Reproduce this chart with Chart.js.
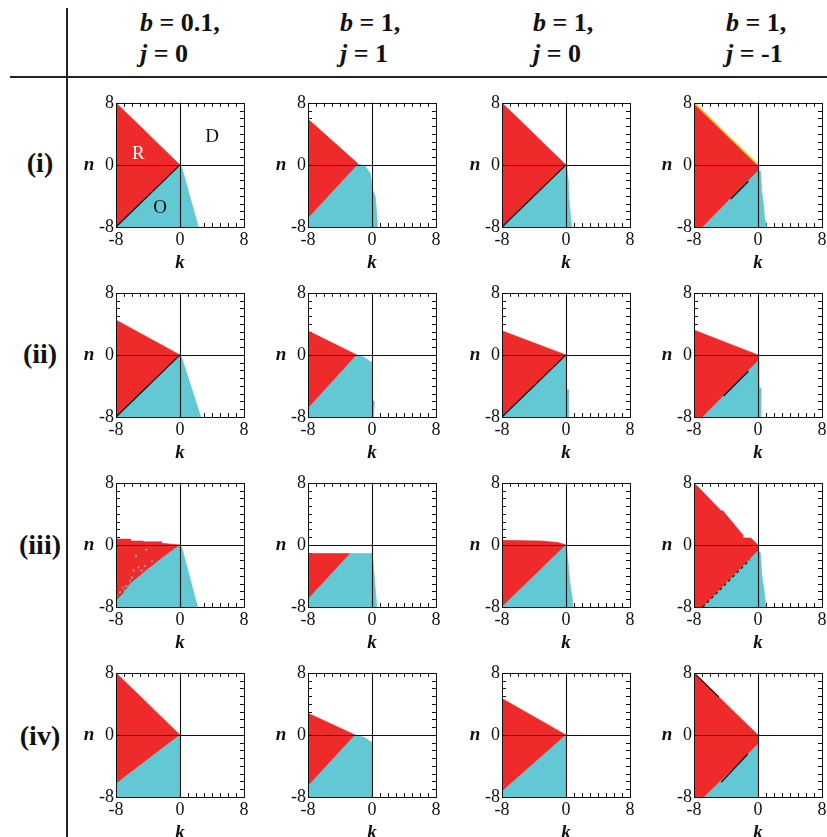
<!DOCTYPE html>
<html lang="en">
<head>
<meta charset="UTF-8">
<title>R / O / D regions in the (k, n) plane</title>
<script src="https://cdn.jsdelivr.net/npm/chart.js"></script>
<style>
  html, body { margin: 0; padding: 0; background: #fff; }
  body {
    width: 827px; height: 837px; position: relative; overflow: hidden;
    font-family: 'Liberation Serif', 'Times New Roman', serif; color: #111;
  }
  .vline { position: absolute; left: 66px; top: 8px; width: 2px; height: 829px; background: #222; }
  .hline { position: absolute; left: 10px; top: 76px; width: 817px; height: 2px; background: #222; }
  .head { position: absolute; top: 7px; font-weight: bold; font-size: 26px; line-height: 31px; white-space: nowrap; }
  .rowlab { position: absolute; left: 0; width: 80px; text-align: center; font-weight: bold; font-size: 28px; line-height: 30px; }
  canvas { position: absolute; }
</style>
</head>
<body>
<div class="vline"></div>
<div class="hline"></div>
<script>
const tickValues = [-8, 0, 8];
const bValues = ['0.1', '1', '1', '1'];
const jValues = ['0', '1', '0', '-1'];
const rowLabels = ['(i)', '(ii)', '(iii)', '(iv)'];

// R region (red) and O region (cyan), one polygon per column, [k, n]
const redI = [
  [[-8, 8], [0, 0], [-8, -8]],
  [[-8, 5.9], [-1.7, 0.1], [-8, -6.9]],
  [[-8, 8], [0, 0], [-8, -8]],
  [[-8, 8], [0, 0], [0, -0.8], [-6.9, -8], [-8, -8]]
];
const cyanI = [
  [[-8, -8], [0, 0], [0.3, -0.6], [2.3, -8]],
  [[-8, -8], [-8, -6.9], [-1.7, 0.1], [-0.9, -0.1], [-0.2, -1.1], [0.1, -3.3], [0.4, -4], [0.6, -6.3], [0.7, -8]],
  [[-8, -8], [0, 0], [0.1, -0.3], [0.3, -2.2], [0.4, -4.7], [0.6, -6.8], [0.7, -8]],
  [[-6.9, -8], [0, -0.8], [0.33, -0.8], [0.46, -3.3], [0.67, -5], [0.83, -6.8], [1.1, -8]]
];
const redII = [
  [[-8, 4.5], [0, 0], [-8, -8]],
  [[-8, 3.1], [-1.9, 0], [-8, -6.9]],
  [[-8, 3.1], [0, 0], [-8, -8]],
  [[-8, 3.2], [0, 0], [0, -0.8], [-6.9, -8], [-8, -8]]
];
const cyanII = [
  [[-8, -8], [0, 0], [0.3, -0.6], [2.6, -8]],
  [[-8, -8], [-8, -6.9], [-1.9, 0], [-1, -0.3], [0, -1], [0, -5.8], [0.3, -6], [0.2, -8]],
  [[-8, -8], [0, 0], [0, -4.5], [0.3, -4.5], [0.3, -8]],
  [[-6.9, -8], [0, -0.8], [0.1, -4.2], [0.35, -4.3], [0.35, -8]]
];
const redIII = [
  [[-8, 0.75], [-6.2, 0.75], [-6.2, 0.5], [-4.6, 0.5], [-4.6, 0.4], [-2.3, 0.4], [-2.3, 0.2], [0, 0],
   [-2.1, -1.6], [-4.2, -3.3], [-6.2, -5], [-7.1, -6.3], [-8, -7.2]],
  [[-8, -1.1], [-2.7, -1.1], [-8, -7]],
  [[-8, 0.6], [-3, 0.5], [-1, 0.3], [0, 0], [-8, -8]],
  [[-8, 8], [-4.6, 4.4], [-4.4, 4.4], [-1.9, 1.3], [-1.9, 0.9], [-0.9, 0.9], [0, 0], [0, -0.8], [-6.9, -8], [-8, -8]]
];
const cyanIII = [
  [[-8, -8], [-8, -7.2], [-7.1, -6.3], [-6.2, -5], [-4.2, -3.3], [-2.1, -1.6], [0, 0], [0.3, -0.6], [2.2, -8]],
  [[-8, -8], [-8, -7], [-2.7, -1.1], [0, -1.1], [0.2, -3], [0.4, -5.5], [0.6, -8]],
  [[-8, -8], [0, 0], [0.2, -1.5], [0.5, -5], [0.8, -7], [0.9, -8]],
  [[-6.9, -8], [0, -0.8], [0.3, -1], [0.5, -4], [0.8, -6.2], [1, -8]]
];
const redIV = [
  [[-8, 8], [0, 0], [-8, -6.3]],
  [[-8, 2.8], [-2.1, 0], [-8, -6.6]],
  [[-8, 4.7], [0, 0], [-8, -7.3]],
  [[-8, 8], [0, 0], [0, -1.2], [-6.7, -8], [-8, -8]]
];
const cyanIV = [
  [[-8, -8], [-8, -6.3], [0, 0], [0, -8]],
  [[-8, -8], [-8, -6.6], [-2.1, 0], [-1, -0.3], [0, -1], [0, -8]],
  [[-8, -8], [-8, -7.3], [0, 0], [0, -8]],
  [[-6.7, -8], [0, -1.2], [0, -8]]
];

// black boundary segments drawn on the R/O border
const edgeI = [[[[-8, -8], [0, 0]]], [], [[[-8, -8], [0, 0]]], [[[-3.4, -4.4], [-1.2, -2.1]]]];
const edgeII = [[[[-8, -8], [0, 0]]], [], [[[-8, -8], [0, 0]]], [[[-4.3, -5.3], [-1.2, -2.1]]]];
const edgeIII = [[], [], [], []];
const edgeIV = [[], [], [], [[[-7.8, 7.8], [-4.9, 4.9]], [[-4.6, -6.1], [-1.3, -2.5]]]];
const dashIII4 = [[-6.9, -8], [-1, -1.9]];
const yellowI4 = [[-8, 8], [0, 0]];
// scattered O points inside R, panel (iii) column 1
const dotsIII1 = [[-4.2, -0.6], [-5.5, -1.4], [-2.5, -2.1], [-2.9, -2.6], [-5.2, -2.9], [-3.75, -3.1],
  [-4.8, -3.3], [-5.8, -3.3], [-6, -4.2], [-6.25, -4.6], [-5, -4.4], [-6.7, -5.3], [-7.1, -5.5],
  [-7.5, -6.1], [-6.9, -5.9], [-3.5, -2.1], [-4.4, -2.7], [-7.9, -6.5]];
const tagsI1 = [['R', -5.2, 1.4, '#fff'], ['D', 4, 3.6, '#111'], ['O', -2.5, -5.6, '#111']];

const redRows = [redI, redII, redIII, redIV];
const cyanRows = [cyanI, cyanII, cyanIII, cyanIV];
const edgeRows = [edgeI, edgeII, edgeIII, edgeIV];

const plotLeft = [116, 308, 502, 694];
const plotTop = [102, 292, 482, 672];
const headLeft = [140, 340, 533, 726];
const rowMid = [163, 354, 545, 736];
const RED = '#ee2a2a', CYAN = '#62c8d4', INK = '#111';
const SERIF = "'Liberation Serif', 'Times New Roman', serif";

Chart.defaults.font.family = SERIF;
Chart.defaults.color = INK;

bValues.forEach((b, c) => {
  const d = document.createElement('div');
  d.className = 'head';
  d.style.left = headLeft[c] + 'px';
  d.innerHTML = '<i>b</i> = ' + b + ',<br><i>j</i> = ' + jValues[c];
  document.body.appendChild(d);
});
rowLabels.forEach((t, r) => {
  const d = document.createElement('div');
  d.className = 'rowlab';
  d.style.top = (rowMid[r] - 15) + 'px';
  d.textContent = t;
  document.body.appendChild(d);
});

const toXY = pts => pts.map(p => ({x: p[0], y: p[1]}));

function polygon(pts, color, order) {
  return {data: toXY(pts), showLine: true, fill: 'shape', backgroundColor: color,
    borderColor: color, borderWidth: 0.6, pointRadius: 0, order: order};
}
function segment(pts, color, width, dash) {
  return {data: toXY(pts), showLine: true, fill: false, borderColor: color,
    borderWidth: width, borderDash: dash || [], pointRadius: 0, order: 1};
}

// frame, inward minor ticks, zero lines, n label and region tags
const framePlugin = {
  id: 'frame',
  beforeDatasetsDraw(chart) {
    const {ctx, chartArea: a, scales: {x, y}} = chart;
    ctx.save();
    ctx.strokeStyle = INK;
    ctx.lineWidth = 1;
    ctx.beginPath();
    for (let v = -7; v <= 7; v++) {
      const px = Math.round(x.getPixelForValue(v)) + 0.5;
      const py = Math.round(y.getPixelForValue(v)) + 0.5;
      ctx.moveTo(px, a.top); ctx.lineTo(px, a.top + 4);
      ctx.moveTo(px, a.bottom); ctx.lineTo(px, a.bottom - 4);
      ctx.moveTo(a.left, py); ctx.lineTo(a.left + 4, py);
      ctx.moveTo(a.right, py); ctx.lineTo(a.right - 4, py);
    }
    ctx.stroke();
    ctx.restore();
  },
  afterDatasetsDraw(chart, args, opts) {
    const {ctx, chartArea: a, scales: {x, y}} = chart;
    const x0 = Math.round(x.getPixelForValue(0)) + 0.5;
    const y0 = Math.round(y.getPixelForValue(0)) + 0.5;
    ctx.save();
    ctx.strokeStyle = INK;
    ctx.lineWidth = 1.1;
    ctx.beginPath();
    ctx.moveTo(x0, a.top); ctx.lineTo(x0, a.bottom);
    ctx.moveTo(a.left, y0); ctx.lineTo(a.right, y0);
    ctx.stroke();
    ctx.lineWidth = 1;
    ctx.strokeRect(Math.round(a.left) + 0.5, Math.round(a.top) + 0.5, Math.round(a.width), Math.round(a.height));
    ctx.fillStyle = INK;
    ctx.font = 'italic bold 19px ' + SERIF;
    ctx.textAlign = 'center';
    ctx.textBaseline = 'middle';
    ctx.fillText('n', a.left - 27, y0);
    ctx.font = '19px ' + SERIF;
    (opts.tags || []).forEach(t => {
      ctx.fillStyle = t[3];
      ctx.fillText(t[0], x.getPixelForValue(t[1]), y.getPixelForValue(t[2]));
    });
    ctx.restore();
  }
};

function axis(extra) {
  return Object.assign({
    type: 'linear', min: -8, max: 8,
    afterBuildTicks: s => { s.ticks = tickValues.map(v => ({value: v})); },
    grid: {display: false, drawTicks: false},
    border: {display: false},
    ticks: {color: INK, font: {size: 18}, padding: 2, maxRotation: 0, autoSkip: false}
  }, extra);
}

for (let r = 0; r < 4; r++) {
  for (let c = 0; c < 4; c++) {
    const cv = document.createElement('canvas');
    cv.width = 190; cv.height = 184;
    cv.style.left = (plotLeft[c] - 50) + 'px';
    cv.style.top = (plotTop[r] - 12) + 'px';
    cv.style.width = '190px'; cv.style.height = '184px';
    document.body.appendChild(cv);

    const datasets = [polygon(redRows[r][c], RED, 4), polygon(cyanRows[r][c], CYAN, 3)];
    edgeRows[r][c].forEach(s => datasets.push(segment(s, INK, 1.3)));
    if (r === 0 && c === 3) datasets.push(segment(yellowI4, '#f3c21b', 1.6));
    if (r === 2 && c === 3) datasets.push(segment(dashIII4, INK, 1.2, [3, 3]));
    if (r === 2 && c === 0) {
      datasets.push({data: toXY(dotsIII1), showLine: false, pointStyle: 'rect', pointRadius: 1.3,
        pointBackgroundColor: CYAN, pointBorderWidth: 0, order: 2});
    }

    new Chart(cv, {
      type: 'scatter',
      data: {datasets: datasets},
      options: {
        responsive: false,
        animation: false,
        layout: {padding: {left: 0, top: 12, right: 12, bottom: 0}},
        plugins: {
          legend: {display: false},
          tooltip: {enabled: false},
          frame: {tags: (r === 0 && c === 0) ? tagsI1 : []}
        },
        scales: {
          x: axis({
            title: {display: true, text: 'k', color: INK,
              font: {size: 19, weight: 'bold', style: 'italic'}, padding: {top: 0, bottom: 0}},
            afterFit: s => { s.height = 47; }
          }),
          y: axis({afterFit: s => { s.width = 50; }})
        }
      },
      plugins: [framePlugin]
    });
  }
}
</script>
</body>
</html>
